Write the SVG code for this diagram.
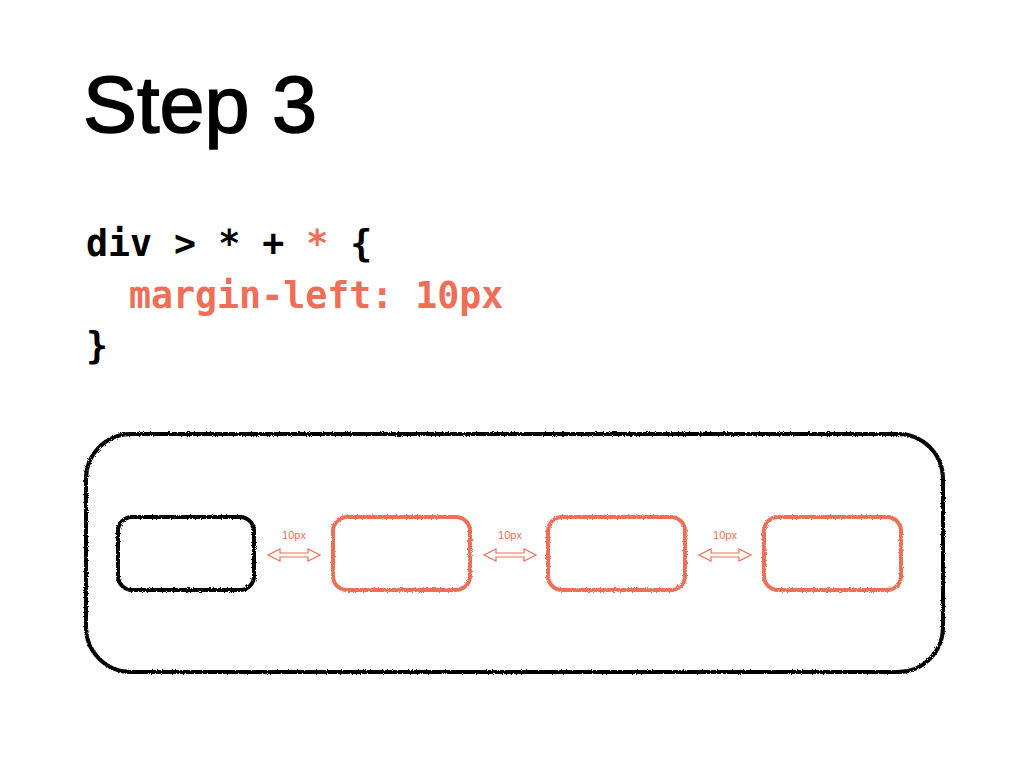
<svg xmlns="http://www.w3.org/2000/svg" width="1024" height="768" viewBox="0 0 1024 768">
<style>
.title{font-family:"Liberation Sans",Arial,sans-serif;font-size:80px;fill:#000;stroke:#000;stroke-width:1.6}
.code{font-family:"DejaVu Sans Mono","Liberation Mono",monospace;font-weight:bold;font-size:36.6px;fill:#000}
.red{fill:#EE6E57}
.box{fill:none;stroke:#000;stroke-width:4;filter:url(#rough)}
.rbox{fill:none;stroke:#EE6E57;stroke-width:4;filter:url(#rough)}
.arr{fill:#fff;stroke:#EE6E57;stroke-width:1.2}
.lbl{font-family:"Liberation Sans",Arial,sans-serif;font-size:11px;fill:#EE6E57;text-anchor:middle}
</style>
<defs>
<filter id="rough" x="-5%" y="-10%" width="110%" height="120%">
<feTurbulence type="fractalNoise" baseFrequency="1.2" numOctaves="2" seed="3" result="n"/>
<feDisplacementMap in="SourceGraphic" in2="n" scale="3"/>
</filter>
<polygon id="dbl" points="0,0 12,-6 12,-2 40,-2 40,-6 52,0 40,6 40,2 12,2 12,6"/>
</defs>
<rect width="1024" height="768" fill="#fff"/>
<text class="title" x="83" y="132" textLength="234" lengthAdjust="spacingAndGlyphs">Step 3</text>
<g id="code">
<text class="code" x="86" y="256">div &gt; * + <tspan class="red">*</tspan> {</text>
<text class="code red" x="129" y="308">margin-left: 10px</text>
<text class="code" x="86" y="358">}</text>
</g>
<g id="container"><rect class="box" x="86" y="434" width="857" height="238" rx="45"/></g>
<g id="child1"><rect class="box" x="118" y="517" width="136" height="73" rx="14"/></g>
<g id="child2"><rect class="rbox" x="333" y="517" width="137" height="73" rx="14"/></g>
<g id="child3"><rect class="rbox" x="548" y="517" width="137" height="73" rx="14"/></g>
<g id="child4"><rect class="rbox" x="764" y="517" width="137" height="73" rx="14"/></g>
<g id="connectors">
<use href="#dbl" class="arr" x="268" y="555"/>
<use href="#dbl" class="arr" x="484" y="555"/>
<use href="#dbl" class="arr" x="699" y="555"/>
<text class="lbl" x="294" y="539">10px</text>
<text class="lbl" x="510" y="539">10px</text>
<text class="lbl" x="725" y="539">10px</text>
</g>
</svg>
